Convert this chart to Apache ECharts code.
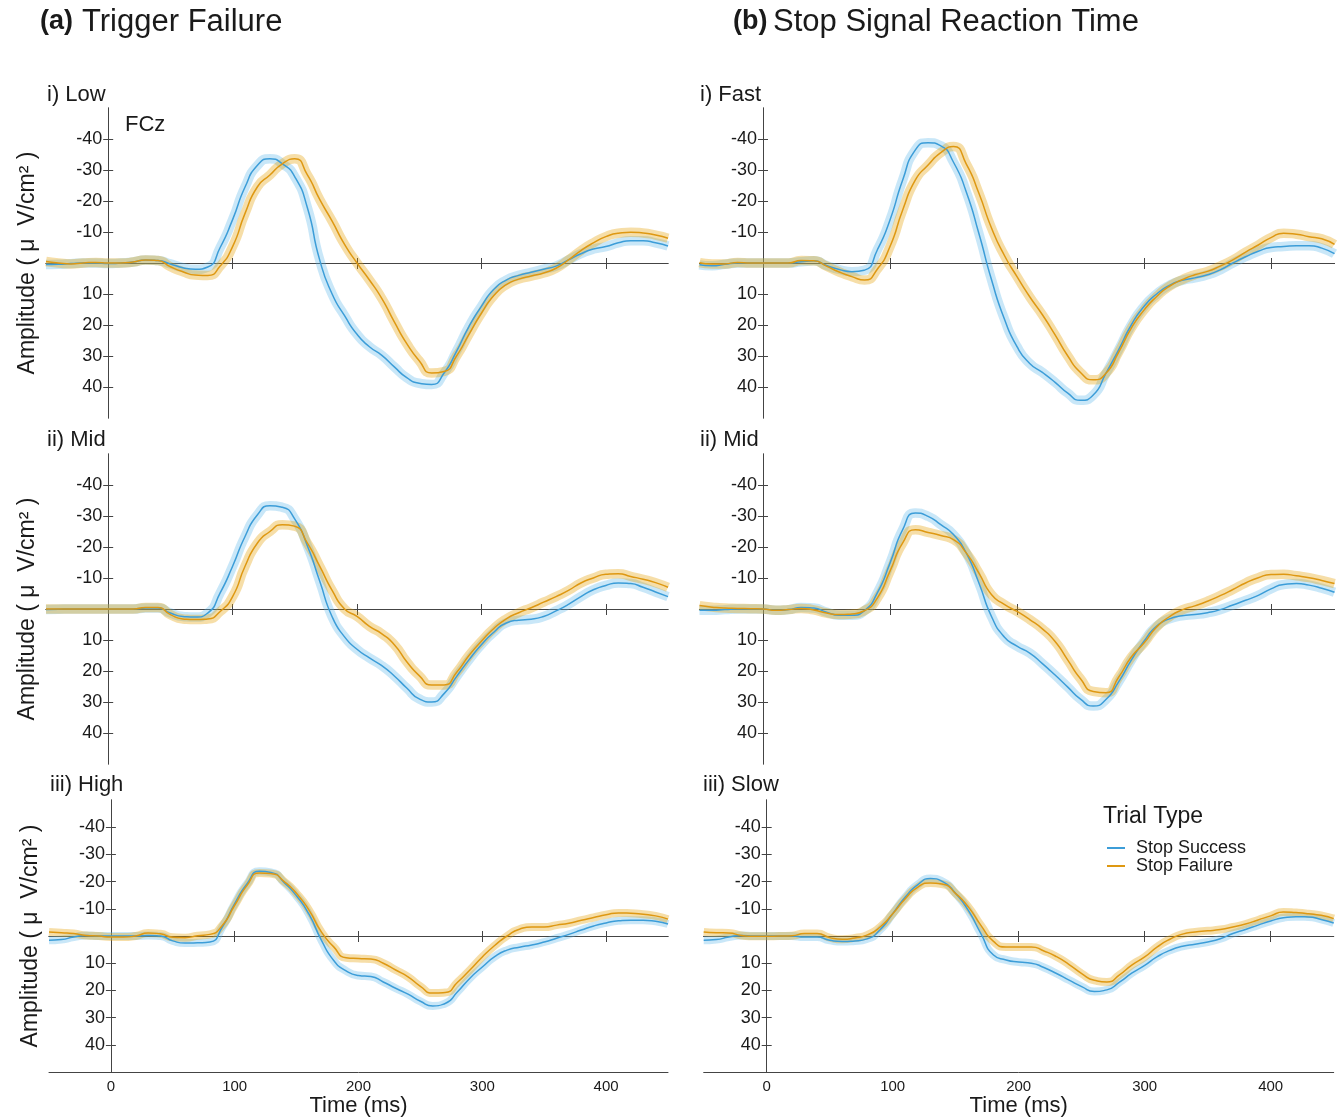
<!DOCTYPE html>
<html><head><meta charset="utf-8">
<script src="https://cdn.jsdelivr.net/npm/echarts@6/dist/echarts.min.js"></script>
<style>html,body{margin:0;padding:0;background:#fff}#chart{width:1339px;height:1118px}</style>
</head><body><div id="chart"></div>
<script>
// ---------- data (µV/cm², negative plotted upward) ----------
const times = [-50,-40,-30,-20,-10,0,10,20,30,40,50,60,70,80,90,100,110,120,130,140,150,160,170,180,190,200,210,220,230,240,250,260,270,280,290,300,310,320,330,340,350,360,370,380,390,400,410,420,430,440,450];

// (a) Trigger Failure
const tfLowSS = [0.5,0.4,0.2,0,0,0.2,0,-0.3,-1,-0.8, 0.3,1.5,2,1.3,-5,-14,-24.5,-31.5,-33.6,-32, -27.8,-18,-1,10,17,23,27,29.8,33.5,37, 38.8,39.2,35.5,28.5,20.5,14,8.5,5.5,4,3, 2,1,-1,-3,-4.5,-5.3,-6.5,-7.2,-7.2,-6.5,-5.5];
const tfLowSF = [-0.5,0,0.3,0,-0.2,0,0,-0.3,-1,-0.8, 1.2,2.8,3.9,4,1,-5.3,-16,-24.6,-28.4,-32, -33.6,-28.5,-20.5,-13.5,-6,0,5.5,11.5,19,26, 31.5,35.5,35,30,23,16.2,10.5,7,5.2,4.2, 3.2,1.7,-1,-4,-6.5,-8.5,-9.6,-9.9,-9.7,-9,-8];
const tfMidSS = [0.2,0.1,0,0,0,0,0,0,-0.3,-0.3, 1.3,2.4,2.6,1.3,-5.2,-13.8,-23.4,-30.4,-33.3,-32.8, -29,-20.5,-9,2.5,9,13,15.8,18.3,21.6,25.5, 29,30,27.3,21.8,16.4,11.5,7.5,4.5,3.6,3.3, 2.4,0.6,-1.5,-4,-6.2,-7.6,-8.4,-8.2,-7,-5.5,-4];
const tfMidSF = [0,0,0,0,0,0,0,0,-0.5,-0.5, 1.8,3.2,3.4,3.2,0.8,-4,-13.8,-21.3,-25,-27.2, -26.7,-21.3,-13.8,-6,0,2.4,5.6,8,11.5,17, 21.5,24.5,24.5,20.5,15,10.4,6.3,3.2,1.2,-0.4, -2.2,-4,-6,-8.4,-10,-11.2,-11.4,-10.5,-9.6,-8.5,-7];
const tfHighSS = [1.6,1.3,0.4,-0.2,0,0,0,0,-0.2,0, 1.8,2.6,2.5,2.2,-3.3,-11.9,-19.2,-23.8,-23.3,-19.6, -14.7,-8,1.5,9,12.8,14.5,14.9,16.9,19.2,21.4, 24,25.7,24.8,20.5,15.5,11.4,7.6,5.2,4.1,3.3, 2.2,0.8,-0.6,-2.2,-3.7,-4.8,-5.6,-5.8,-5.8,-5.4,-4.4];
const tfHighSF = [-1.5,-1.2,-0.9,-0.2,0,0.4,0.4,0,-1.1,-0.8, 0.5,0.6,-0.1,-0.6,-3.9,-11.3,-18.6,-23.2,-22.9,-20, -15.6,-9.5,-1.5,4,8,8.3,8.5,10,12.5,15, 18.5,21,20.8,17,12.5,7.7,3.5,0,-2.5,-3.3, -3.3,-4,-4.7,-5.8,-6.8,-7.8,-8.5,-8.4,-8,-7.4,-6.2];

// (b) Stop Signal Reaction Time
const ssrtFastSS = [0.6,0.9,0.4,0,0,0,0,0,-0.4,-0.7, 0.8,2.1,2.8,2.3,-4.2,-13.9,-26.8,-36.5,-38.8,-37.8, -32.5,-23,-9.5,5.5,18,27,32.4,35.3,38.5,42, 44.3,42.6,35.6,28,20,14,10,7.2,5.6,4.8, 3.8,2.2,0,-2,-3.8,-5,-5.3,-5.6,-5.6,-4.8,-3];
const ssrtFastSF = [-0.1,0.3,0.3,-0.2,0,0,0,0,-0.8,-0.7, 1,2.9,4.4,5.5,2,-5.3,-17.1,-26.8,-31.6,-35.6, -37.6,-32,-22.5,-11.2,-2.5,4.4,10.9,16.7,23.2,30, 35.3,37.7,35.6,28.8,21,15.2,10.8,7.5,5.4,3.8, 2.7,1,-1,-3.5,-5.8,-8.2,-9.6,-9.3,-8.5,-7.8,-6];
const ssrtMidSS = [0.4,0.4,0.2,0,0,0,0.4,0.2,-0.5,-0.3, 1,2,2,0.5,-5.2,-14.8,-25.6,-31,-29.9,-27.2, -24,-18.1,-8.4,2.5,9,12,14.2,17.6,21.3,25.2, 29.1,31.3,29.2,23.5,16.5,10.4,5.5,3.2,2.2,1.8, 1.2,0.2,-1.3,-2.8,-4.4,-6.5,-7.9,-8.2,-7.7,-6.7,-5.4];
const ssrtMidSF = [-1.1,-0.6,-0.3,-0.2,-0.1,0,0.4,0.2,-0.2,0.3, 1.3,1.8,1.6,0.5,-3.5,-12.2,-21.3,-25.6,-24.7,-23.7, -22.4,-18.1,-11.6,-4.6,-1.5,0.8,3.4,6.4,10.5,16.5, 22.5,26.6,27,22,15.5,11,5.8,2.5,0.3,-1, -2.5,-4.3,-6.3,-8.4,-10.1,-11.1,-11.2,-10.7,-10.1,-9.2,-8.2];
const ssrtSlowSS = [1.6,1.3,0.4,-0.2,0,0,0,0,0.4,0.4, 1.6,2,1.8,1,-2.3,-8.2,-14.3,-18.9,-21.1,-19.9, -15.6,-9.4,-0.9,7,8.8,9.6,10,11.6,13.8,16.2, 18.6,20.4,19.8,17,13.6,10.8,7.6,5.3,3.8,3, 2.2,1,-0.9,-2.4,-4,-5.5,-6.7,-7.1,-7,-6.1,-4.8];
const ssrtSlowSF = [-1.5,-1.2,-1.1,-0.2,0.1,0.1,0,-0.1,-0.9,-0.9, 0.6,1.2,0.7,-0.4,-3.3,-8.2,-13.7,-18,-19.5,-19, -15.6,-10.7,-3.9,2,4,4,4,5.5,7.6,10.5, 13.8,16.3,16.9,14.3,10.6,7.7,4,1.2,-0.7,-1.5, -1.9,-2.4,-3.3,-4.4,-5.9,-7.4,-8.8,-8.6,-8.2,-7.6,-6.4];

const panelLabels = ['i) Low','ii) Mid','iii) High','i) Fast','ii) Mid','iii) Slow'];
const columnTitles = [['(a)','Trigger Failure'],['(b)','Stop Signal Reaction Time']];
const seriesNames = ['Stop Success','Stop Failure'];
const yTicks = [-40,-30,-20,-10,10,20,30,40];
const xZeroTicks = [100,200,300,400];
const xLabelTicks = [0,100,200,300,400];

const panelData = [
  [tfLowSS, tfLowSF],[tfMidSS, tfMidSF],[tfHighSS, tfHighSF],
  [ssrtFastSS, ssrtFastSF],[ssrtMidSS, ssrtMidSF],[ssrtSlowSS, ssrtSlowSF]
];

// ---------- layout / style ----------
const W = 1339;
const X_MIN = -50, X_MAX = 450;
const FONT = '"Liberation Sans", Arial, Helvetica, sans-serif';
const TXT = '#1a1a1a';
const AX = '#444';
const LINE_C = ['#3c9dd8', '#de9812'];
const BAND_C = ['rgba(86,180,233,0.32)', 'rgba(230,159,0,0.34)'];
const gridPos = [
  {left:46,    right:671, top:108, height:310},
  {left:46,    right:671, top:454, height:310},
  {left:49,    right:671, top:800, height:272},
  {left:699.5, right:4.5, top:108, height:310},
  {left:699.5, right:4.5, top:454, height:310},
  {left:703.7, right:5.3, top:800, height:272}
].map(g => Object.assign({containLabel:false, outerBoundsMode:'none'}, g));
const labelPos = [[47,95],[47,440],[50,785],[700,95],[700,440],[703,785]];

const pairs = arr => times.map((t,i)=>[t, arr[i]]);
const axLine = {color: AX, width: 1};

const xAxes = [], yAxes = [], series = [];
gridPos.forEach((g, gi) => {
  const bottomRow = (gi % 3) === 2;
  const leftCol = gi < 3;
  const gw = W - g.left - g.right;
  const dx = (0 - X_MIN) / (X_MAX - X_MIN) * gw;   // pixel distance of t=0 from grid's left edge
  const xb = {type:'value', gridIndex: gi, min:X_MIN, max:X_MAX, splitLine:{show:false}};
  const xIdx = xAxes.length;
  if (bottomRow) {
    xAxes.push(Object.assign({}, xb, {
      position:'bottom',
      axisLine:{onZero:false, lineStyle:axLine},
      axisTick:{show:false},
      axisLabel:{customValues:xLabelTicks, fontSize:15, color:TXT, fontFamily:FONT, margin:7},
      name:'Time (ms)', nameLocation:'middle', nameGap:20,
      nameTextStyle:{fontSize:22, color:TXT, fontFamily:FONT}
    }));
  }
  xAxes.push(Object.assign({}, xb, {
    position:'bottom', axisLine:{onZero:true, lineStyle:axLine},
    axisTick:{show:true, customValues:xZeroTicks, length:6, lineStyle:axLine},
    axisLabel:{show:false}
  }));
  xAxes.push(Object.assign({}, xb, {
    position:'top', axisLine:{onZero:true, lineStyle:axLine},
    axisTick:{show:true, customValues:xZeroTicks, length:5, lineStyle:axLine},
    axisLabel:{show:false}
  }));
  const yb = {type:'value', gridIndex: gi, min:-50, max:50, inverse:true, splitLine:{show:false}};
  const yIdx = yAxes.length;
  yAxes.push(Object.assign({}, yb, {
    position:'left', offset: -dx, axisLine:{onZero:false, lineStyle:axLine},
    axisTick:{show:true, customValues:yTicks, length:5, lineStyle:axLine},
    axisLabel:{customValues:yTicks, fontSize:18, color:TXT, fontFamily:FONT, margin:6},
    name: leftCol ? 'Amplitude ( μ  V/cm² )' : '',
    nameLocation:'middle', nameRotate:90, nameGap:69,
    nameTextStyle:{fontSize:23, color:TXT, fontFamily:FONT}
  }));
  yAxes.push(Object.assign({}, yb, {
    position:'right', offset: -(gw - dx), axisLine:{onZero:false, lineStyle:axLine},
    axisTick:{show:true, customValues:yTicks, length:5, lineStyle:axLine},
    axisLabel:{show:false}
  }));
  const bw = bottomRow ? 8 : 9.5;
  // shaded error bands
  [0,1].forEach(k => {
    series.push({
      type:'line', name: seriesNames[k] + ' band', xAxisIndex:xIdx, yAxisIndex:yIdx,
      data: pairs(panelData[gi][k]), smooth:0.6, showSymbol:false, silent:true,
      lineStyle:{width:bw, color:BAND_C[k]}, itemStyle:{color:BAND_C[k]}, z:1
    });
  });
  // mean lines
  [0,1].forEach(k => {
    series.push({
      type:'line', name: seriesNames[k], xAxisIndex:xIdx, yAxisIndex:yIdx,
      data: pairs(panelData[gi][k]), smooth:0.6, showSymbol:false,
      lineStyle:{width:1.5, color:LINE_C[k]}, itemStyle:{color:LINE_C[k]}, z:3
    });
  });
});

const graphics = [];
columnTitles.forEach((ct, i) => {
  const x0 = i === 0 ? 40 : 733;
  const x1 = i === 0 ? 82 : 773;
  graphics.push({type:'text', x:x0, y:22, style:{text:ct[0], font:'bold 27px ' + FONT, fill:TXT, verticalAlign:'middle'}});
  graphics.push({type:'text', x:x1, y:22, style:{text:ct[1], font:'31px ' + FONT, fill:TXT, verticalAlign:'middle'}});
});
panelLabels.forEach((t, i) => {
  graphics.push({type:'text', x:labelPos[i][0], y:labelPos[i][1], style:{text:t, font:'22px ' + FONT, fill:TXT, verticalAlign:'middle'}});
});
graphics.push({type:'text', x:125, y:125, style:{text:'FCz', font:'22px ' + FONT, fill:TXT, verticalAlign:'middle'}});
graphics.push({type:'text', x:1103, y:817, style:{text:'Trial Type', font:'23px ' + FONT, fill:TXT, verticalAlign:'middle'}});

const chart = echarts.init(document.getElementById('chart'), null, {renderer:'canvas'});
chart.setOption({
  animation:false,
  backgroundColor:'#fff',
  textStyle:{fontFamily:FONT},
  grid: gridPos,
  xAxis: xAxes,
  yAxis: yAxes,
  legend:{
    data: seriesNames, orient:'vertical', left:1102, top:834,
    icon:'rect', itemWidth:18, itemHeight:2, itemGap:0,
    textStyle:{fontSize:18, color:TXT, fontFamily:FONT, padding:[0,0,0,6], lineHeight:18},
    selectedMode:false
  },
  graphic: graphics,
  series: series
});
</script>
</body></html>
